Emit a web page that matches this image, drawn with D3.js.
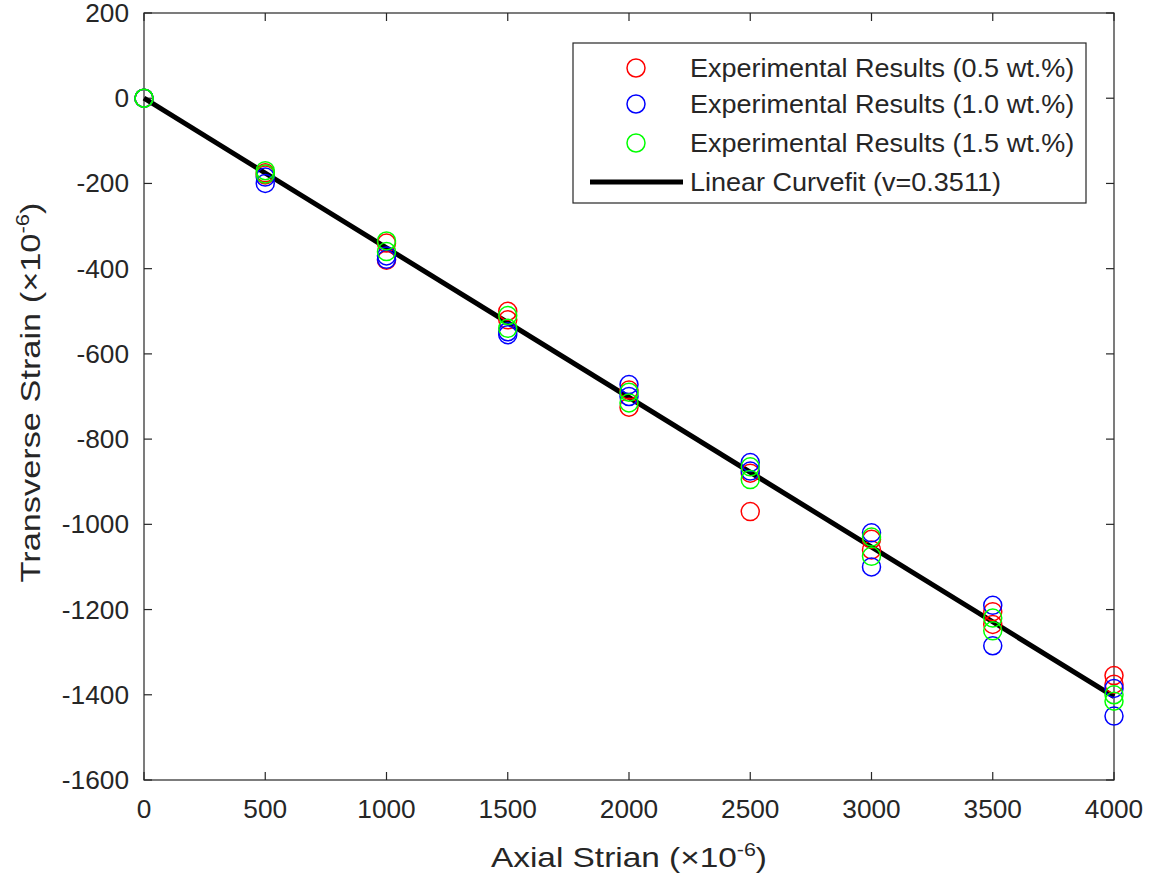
<!DOCTYPE html>
<html>
<head>
<meta charset="utf-8">
<script src="https://cdn.jsdelivr.net/npm/d3@7"></script>
<style>
  body { margin: 0; background: #fff; }
  svg { font-family: "Liberation Sans", Arial, sans-serif; }
</style>
</head>
<body>
<svg id="chart" width="1153" height="879"></svg>
<script>
// axial strain positions (x 10^-6)
const axial = [0, 500, 1000, 1500, 2000, 2500, 3000, 3500, 4000];

// two replicate readings per axial level for each series (transverse strain, x 10^-6)
const red05 = [[0, 0], [-175, -180], [-340, -380], [-500, -520], [-685, -725], [-970, -880], [-1035, -1060], [-1205, -1235], [-1355, -1375]];
const blue10 = [[0, 0], [-200, -185], [-370, -378], [-548, -555], [-672, -700], [-855, -875], [-1020, -1100], [-1190, -1285], [-1385, -1450]];
const green15 = [[0, 0], [-170, -178], [-335, -360], [-510, -540], [-690, -715], [-865, -895], [-1030, -1075], [-1220, -1250], [-1400, -1415]];

const poisson = 0.3511;
const xTicks = [0, 500, 1000, 1500, 2000, 2500, 3000, 3500, 4000];
const yTicks = [200, 0, -200, -400, -600, -800, -1000, -1200, -1400, -1600];

const series = [
  { name: "Experimental Results (0.5 wt.%)", color: "#ff0000", values: red05 },
  { name: "Experimental Results (1.0 wt.%)", color: "#0000ff", values: blue10 },
  { name: "Experimental Results (1.5 wt.%)", color: "#00ff00", values: green15 }
];

const svg = d3.select("#chart");
const plot = { left: 144, right: 1114, top: 13, bottom: 780 };

const x = d3.scaleLinear().domain([0, 4000]).range([plot.left, plot.right]);
const y = d3.scaleLinear().domain([-1600, 200]).range([plot.bottom, plot.top]);

const axisColor = "#262626";
const tickLen = 8;

// the source font runs a bit wider than Liberation Sans, stretch text to match
function stretch(sel, k) {
  sel.each(function () {
    const w = this.getComputedTextLength();
    d3.select(this).attr("textLength", w * k).attr("lengthAdjust", "spacingAndGlyphs");
  });
}

// frame
svg.append("rect")
  .attr("x", plot.left).attr("y", plot.top)
  .attr("width", plot.right - plot.left).attr("height", plot.bottom - plot.top)
  .attr("fill", "none").attr("stroke", axisColor).attr("stroke-width", 1.2);

// inward ticks on all four sides
const g = svg.append("g").attr("stroke", axisColor).attr("stroke-width", 1.2);
xTicks.forEach(t => {
  g.append("line").attr("x1", x(t)).attr("x2", x(t)).attr("y1", plot.bottom).attr("y2", plot.bottom - tickLen);
  g.append("line").attr("x1", x(t)).attr("x2", x(t)).attr("y1", plot.top).attr("y2", plot.top + tickLen);
});
yTicks.forEach(t => {
  g.append("line").attr("x1", plot.left).attr("x2", plot.left + tickLen).attr("y1", y(t)).attr("y2", y(t));
  g.append("line").attr("x1", plot.right).attr("x2", plot.right - tickLen).attr("y1", y(t)).attr("y2", y(t));
});

// tick labels
svg.append("g").selectAll("text").data(xTicks).enter().append("text")
  .attr("x", d => x(d)).attr("y", plot.bottom + 38)
  .attr("text-anchor", "middle").attr("font-size", 25).attr("fill", axisColor)
  .text(d => d)
  .call(stretch, 1.05);

svg.append("g").selectAll("text").data(yTicks).enter().append("text")
  .attr("x", plot.left - 15).attr("y", d => y(d) + 9)
  .attr("text-anchor", "end").attr("font-size", 25).attr("fill", axisColor)
  .text(d => d)
  .call(stretch, 1.05);

// axis titles
const xt = svg.append("text")
  .attr("x", (plot.left + plot.right) / 2).attr("y", 867)
  .attr("text-anchor", "middle").attr("font-size", 28).attr("fill", axisColor);
xt.append("tspan").text("Axial Strian (\u00d710");
xt.append("tspan").attr("dy", -11).attr("font-size", 18).text("-6");
xt.append("tspan").attr("dy", 11).text(")");
xt.attr("textLength", 276).attr("lengthAdjust", "spacingAndGlyphs");

const yt = svg.append("text")
  .attr("transform", `translate(40,${(plot.top + plot.bottom) / 2 - 4}) rotate(-90)`)
  .attr("text-anchor", "middle").attr("font-size", 28).attr("fill", axisColor);
yt.append("tspan").text("Transverse Strain (\u00d710");
yt.append("tspan").attr("dy", -11).attr("font-size", 18).text("-6");
yt.append("tspan").attr("dy", 11).text(")");
yt.attr("textLength", 380).attr("lengthAdjust", "spacingAndGlyphs");

// fitted line
svg.append("line")
  .attr("x1", x(0)).attr("y1", y(0))
  .attr("x2", x(4000)).attr("y2", y(-poisson * 4000))
  .attr("stroke", "#000").attr("stroke-width", 5);

// data markers
series.forEach(s => {
  const pts = [];
  s.values.forEach((reps, i) => reps.forEach(v => pts.push([axial[i], v])));
  svg.append("g").selectAll("circle").data(pts).enter().append("circle")
    .attr("cx", d => x(d[0])).attr("cy", d => y(d[1])).attr("r", 9)
    .attr("fill", "none").attr("stroke", s.color).attr("stroke-width", 1.5);
});

// legend
const lg = svg.append("g");
lg.append("rect").attr("x", 573).attr("y", 43).attr("width", 513).attr("height", 160)
  .attr("fill", "#fff").attr("stroke", axisColor).attr("stroke-width", 1.2);
const rowY = [68, 104, 143, 182];
const labels = series.map(s => s.name).concat(["Linear Curvefit (v=0.3511)"]);
series.forEach((s, i) => {
  lg.append("circle").attr("cx", 636).attr("cy", rowY[i]).attr("r", 9)
    .attr("fill", "none").attr("stroke", s.color).attr("stroke-width", 1.5);
});
lg.append("line").attr("x1", 590).attr("x2", 683).attr("y1", rowY[3]).attr("y2", rowY[3])
  .attr("stroke", "#000").attr("stroke-width", 5);
lg.selectAll("text.lab").data(labels).enter().append("text")
  .attr("class", "lab")
  .attr("x", 690).attr("y", (d, i) => rowY[i] + 9).attr("font-size", 25)
  .attr("fill", axisColor).text(d => d)
  .call(stretch, 1.08);
</script>
</body>
</html>
